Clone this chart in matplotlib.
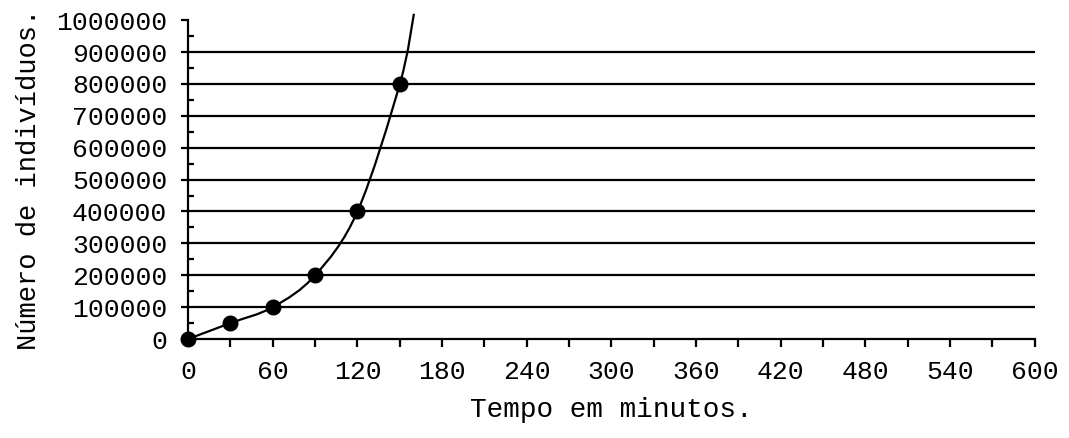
import matplotlib
matplotlib.use("Agg")
import matplotlib.pyplot as plt
from matplotlib.path import Path
from matplotlib.patches import PathPatch
from matplotlib.ticker import MultipleLocator, FixedLocator

# --- data ---
tempo = [0, 30, 60, 90, 120, 150]
individuos = [0, 50000, 100000, 200000, 400000, 800000]
# where the smoothed trend line ends (beyond the last point)
curve_end_t = 160
curve_end_y = 1020000
x_ticks = [0, 60, 120, 180, 240, 300, 360, 420, 480, 540, 600]
y_ticks = [0, 100000, 200000, 300000, 400000, 500000, 600000, 700000, 800000, 900000, 1000000]
xlabel = "Tempo em minutos."
ylabel = "Número de indivíduos."

FONT = "Liberation Mono"

fig = plt.figure(figsize=(10.69, 4.38), dpi=100)
ax = fig.add_axes([0.176, 0.226, 0.792, 0.728])
ax.set_xlim(0, 600)
ax.set_ylim(0, 1000000)

# gridlines (horizontal, not at 0 / top)
for v in y_ticks[1:-1]:
    ax.axhline(v, color="black", lw=1.6, zorder=1)

# smoothed curve (Catmull-Rom -> cubic Bezier) through the points
px = tempo + [curve_end_t]
py = individuos + [curve_end_y]
n = len(px)
verts = [(px[0], py[0])]
codes = [Path.MOVETO]
for i in range(n - 1):
    p0 = (px[i - 1], py[i - 1]) if i > 0 else (px[i], py[i])
    p1 = (px[i], py[i])
    p2 = (px[i + 1], py[i + 1])
    p3 = (px[i + 2], py[i + 2]) if i + 2 < n else (px[i + 1], py[i + 1])
    c1 = (p1[0] + (p2[0] - p0[0]) / 6, p1[1] + (p2[1] - p0[1]) / 6)
    c2 = (p2[0] - (p3[0] - p1[0]) / 6, p2[1] - (p3[1] - p1[1]) / 6)
    verts += [c1, c2, p2]
    codes += [Path.CURVE4] * 3
patch = PathPatch(Path(verts, codes), facecolor="none", edgecolor="black",
                  lw=1.6, transform=ax.transData, clip_on=False, zorder=3)
ax.add_patch(patch)

ax.plot(tempo, individuos, "o", color="black", markersize=10.5, zorder=4, clip_on=False)

for s in ["top", "right"]:
    ax.spines[s].set_visible(False)
for s in ["left", "bottom"]:
    ax.spines[s].set_linewidth(1.6)
    ax.spines[s].set_zorder(2)

ax.xaxis.set_major_locator(FixedLocator(x_ticks))
ax.xaxis.set_minor_locator(MultipleLocator(30))
ax.yaxis.set_major_locator(FixedLocator(y_ticks))
ax.yaxis.set_minor_locator(MultipleLocator(50000))
ax.set_xticklabels([str(t) for t in x_ticks], fontname=FONT, fontsize=19)
ax.set_yticklabels([str(t) for t in y_ticks], fontname=FONT, fontsize=19)

ax.tick_params(axis="x", which="major", direction="out", length=6, width=1.6, pad=9)
ax.tick_params(axis="x", which="minor", direction="out", length=6, width=1.6)
ax.tick_params(axis="y", which="major", direction="out", length=5, width=1.6, pad=10)
ax.tick_params(axis="y", which="minor", direction="in", length=4, width=1.6)

ax.set_xlabel(xlabel, fontname=FONT, fontsize=20, labelpad=9.5)
ax.set_ylabel(ylabel, fontname=FONT, fontsize=19.5, labelpad=10)

fig.savefig("out.png", dpi=100)
